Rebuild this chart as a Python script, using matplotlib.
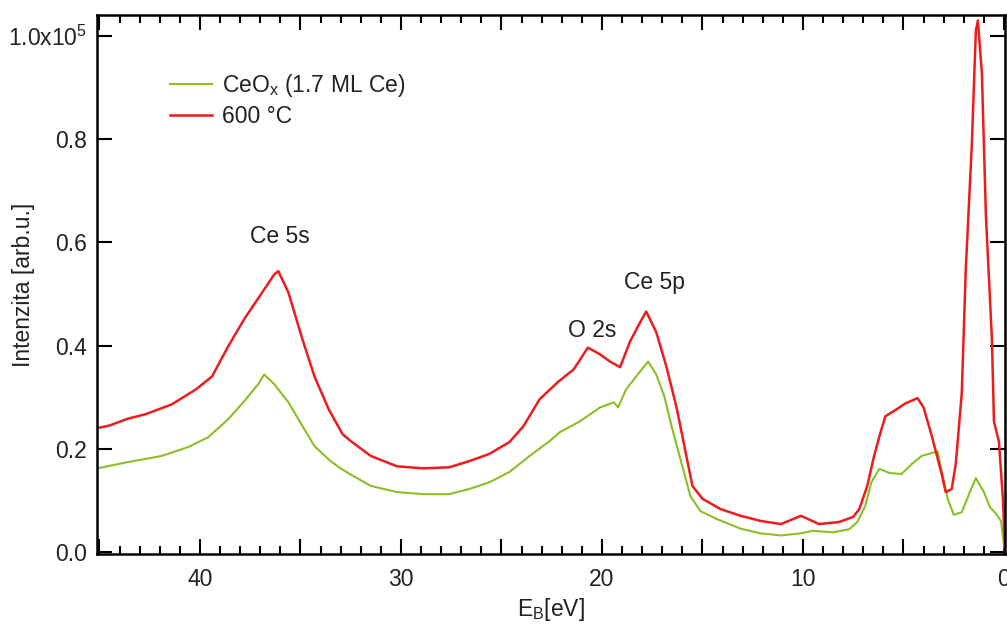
import numpy as np
import matplotlib
matplotlib.use("Agg")
import matplotlib.pyplot as plt
from matplotlib.ticker import MultipleLocator, FixedLocator, FixedFormatter

plt.rcParams['font.family'] = ['Liberation Sans', 'DejaVu Sans']
plt.rcParams['mathtext.fontset'] = 'custom'
plt.rcParams['mathtext.rm'] = 'Liberation Sans'
plt.rcParams['mathtext.it'] = 'Liberation Sans:italic'

# ---- data (binding energy in eV, intensity in units of 1e5 arb.u.) ----
red_E = [45.1, 44.5, 43.6, 42.7, 41.4, 40.2, 39.4, 38.6, 37.8, 36.9, 36.3, 36.1,
         35.6, 34.9, 34.3, 33.6, 32.9, 32.5, 31.5, 30.2, 28.9, 27.6, 26.6, 25.6,
         24.6, 23.9, 23.1, 22.2, 21.4, 20.7, 20.1, 19.6, 19.1, 18.6, 18.1, 17.8,
         17.3, 16.8, 16.3, 15.9, 15.5, 15.0, 14.1, 13.1, 12.1, 11.1, 10.1, 9.2,
         8.2, 7.5, 7.2, 6.8, 6.5, 6.2, 5.9, 5.4, 4.9, 4.3, 4.0, 3.6, 3.1, 2.9,
         2.6, 2.4, 2.1, 1.9, 1.6, 1.4, 1.3, 1.1, 0.9, 0.6, 0.5, 0.25, 0.05, -0.05]
red_I = [0.240, 0.245, 0.258, 0.267, 0.286, 0.315, 0.340, 0.398, 0.451, 0.503, 0.538, 0.544,
         0.503, 0.412, 0.340, 0.277, 0.228, 0.215, 0.186, 0.166, 0.162, 0.164, 0.176, 0.190,
         0.213, 0.244, 0.296, 0.329, 0.354, 0.396, 0.383, 0.369, 0.358, 0.408, 0.445, 0.466,
         0.426, 0.360, 0.282, 0.205, 0.128, 0.103, 0.083, 0.070, 0.060, 0.054, 0.070, 0.054,
         0.058, 0.068, 0.083, 0.128, 0.180, 0.224, 0.263, 0.275, 0.288, 0.298, 0.280, 0.226, 0.151, 0.116,
         0.122, 0.170, 0.308, 0.549, 0.789, 1.010, 1.030, 0.928, 0.652, 0.412, 0.253, 0.213, 0.100, 0.0]

green_E = [45.1, 43.6, 41.9, 40.6, 39.6, 38.6, 37.8, 37.1, 36.8, 36.3, 35.6, 34.9,
           34.3, 33.5, 33.0, 32.5, 31.5, 30.2, 28.9, 27.6, 26.6, 25.6, 24.6, 23.6,
           22.6, 22.1, 21.1, 20.1, 19.4, 19.2, 18.8, 18.1, 17.7, 17.3, 16.9, 16.5,
           16.0, 15.6, 15.1, 14.3, 13.1, 12.1, 11.1, 10.1, 9.5, 8.5, 7.7, 7.3,
           6.9, 6.6, 6.2, 5.7, 5.1, 4.6, 4.1, 3.3, 3.1, 2.8, 2.5, 2.1,
           1.7, 1.4, 1.0, 0.7, 0.4, 0.15, -0.05]
green_I = [0.162, 0.174, 0.186, 0.203, 0.222, 0.257, 0.292, 0.325, 0.344, 0.325, 0.290, 0.244,
           0.205, 0.176, 0.162, 0.150, 0.128, 0.116, 0.112, 0.112, 0.122, 0.135, 0.155, 0.186,
           0.215, 0.232, 0.253, 0.280, 0.290, 0.280, 0.315, 0.350, 0.369, 0.344, 0.302, 0.238,
           0.166, 0.108, 0.079, 0.064, 0.045, 0.036, 0.032, 0.036, 0.041, 0.038, 0.044, 0.058,
           0.089, 0.135, 0.161, 0.153, 0.151, 0.170, 0.186, 0.195, 0.157, 0.103, 0.072, 0.077,
           0.116, 0.143, 0.116, 0.087, 0.074, 0.060, 0.0]

SCALE = 1e5
series_labels = [r'CeO$_\mathrm{x}$ (1.7 ML Ce)', '600 °C']
peak_labels = ['Ce 5s', 'O 2s', 'Ce 5p']
peak_pos_E = [36.0, 20.5, 17.4]
peak_pos_I = [0.611, 0.43, 0.522]

y_ticks = [0.0, 0.2, 0.4, 0.6, 0.8, 1.0]
y_ticklabels = ['0.0', '0.2', '0.4', '0.6', '0.8', r'1.0x10$^{5}$']

FS = 16.5
TXT = '#222222'

# ---- figure ----
W, H = 1007, 625
fig = plt.figure(figsize=(W / 100, H / 100), dpi=100)
ax = fig.add_axes([97 / W, 1 - 554 / H, 908 / W, 539 / H])

green_c = '#8cbf26'
red_c = '#ee1c1c'
ax.plot(green_E, np.array(green_I) * SCALE, color=green_c, lw=1.5, label=series_labels[0])
ax.plot(red_E, np.array(red_I) * SCALE, color=red_c, lw=1.8, label=series_labels[1])

ax.set_xlim(45.12, -0.05)
ax.set_ylim(-400, 104060)

ax.xaxis.set_major_locator(MultipleLocator(5))
ax.xaxis.set_minor_locator(MultipleLocator(1))
ax.xaxis.set_major_formatter(plt.FuncFormatter(
    lambda v, p: f'{int(round(v))}' if int(round(v)) % 10 == 0 else ''))
ax.yaxis.set_major_locator(FixedLocator([v * SCALE for v in y_ticks]))
ax.yaxis.set_major_formatter(FixedFormatter(y_ticklabels))

ax.tick_params(axis='both', which='major', direction='in', length=11, width=1.5,
               labelsize=FS, colors='black', labelcolor=TXT)
ax.tick_params(axis='x', which='major', top=True, bottom=True, pad=10)
ax.tick_params(axis='y', which='major', left=True, right=True, pad=7)
ax.tick_params(axis='x', which='minor', direction='in', length=6, width=1.5, top=True, bottom=True)
for s in ax.spines.values():
    s.set_linewidth(1.8)

ax.set_xlabel(r'E$_\mathrm{B}$[eV]', fontsize=FS, color=TXT, labelpad=4)
ax.set_ylabel('Intenzita [arb.u.]', fontsize=FS, color=TXT)
ax.yaxis.set_label_coords(-0.068, 0.5)

for lab, e, i in zip(peak_labels, peak_pos_E, peak_pos_I):
    ax.text(e, i * SCALE, lab, fontsize=FS, color=TXT, ha='center', va='center')

leg = ax.legend(loc='upper left', bbox_to_anchor=(0.080, 0.895), frameon=False,
                fontsize=FS, handlelength=1.85, handletextpad=0.45, labelspacing=0.3,
                borderpad=0, borderaxespad=0)
for t in leg.get_texts():
    t.set_color(TXT)

fig.savefig('out.png', dpi=100)
